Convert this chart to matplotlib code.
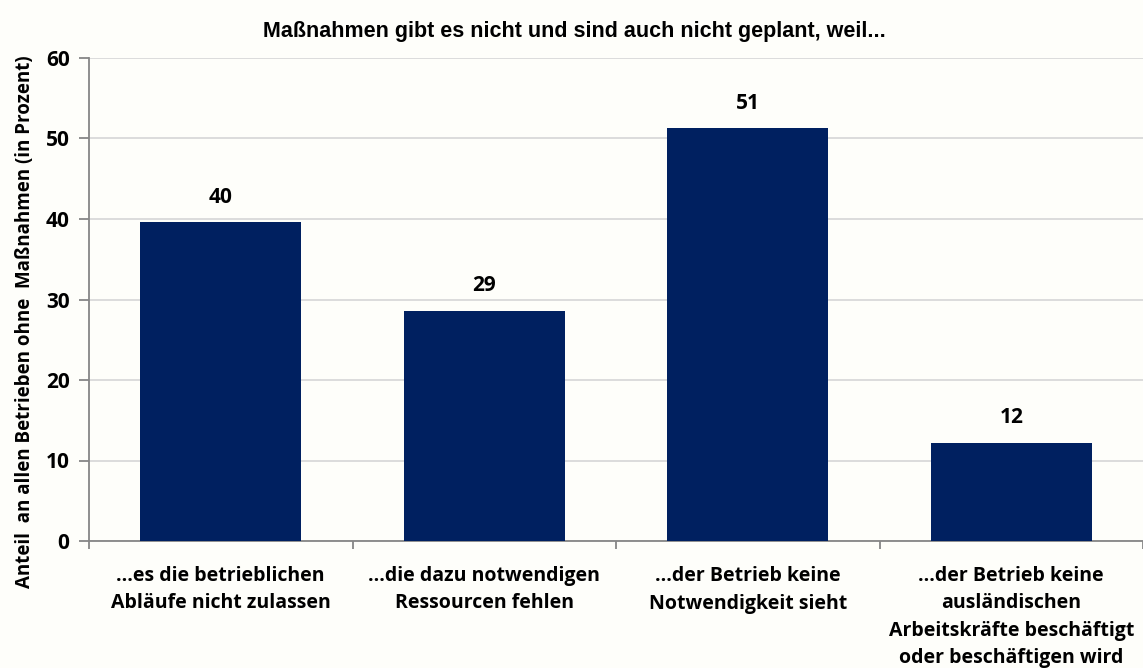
import matplotlib.pyplot as plt
import numpy as np

categories = ['...es die betrieblichen\nAbläufe nicht zulassen',
              '...die dazu notwendigen\nRessourcen fehlen',
              '...der Betrieb keine\nNotwendigkeit sieht',
              '...der Betrieb keine\nausländischen\nArbeitskräfte beschäftigt\noder beschäftigen wird']
values = [39.6, 28.6, 51.3, 12.2]
labels = ['40', '29', '51', '12']

plt.rcParams['font.family'] = ['Open Sans', 'DejaVu Sans']

bg = '#fefefa'
fig = plt.figure(figsize=(11.43, 6.68), dpi=100, facecolor=bg)
ax = fig.add_axes([89 / 1143, 1 - 541 / 668, 1 - 89 / 1143, 483 / 668], facecolor=bg)

x = np.arange(len(values))
ax.bar(x, values, width=0.61, color='#002060', zorder=3)
for xi, v, t in zip(x, values, labels):
    ax.text(xi, v + 1.8, t, ha='center', va='bottom', fontsize=15, fontweight='bold')

ax.set_xlim(-0.5, 3.49)
ax.set_ylim(0, 60)
ax.set_yticks(range(0, 61, 10))
ax.yaxis.grid(True, color='#d9d9d9', linewidth=1.3, zorder=0)
ax.set_xticks(x)
ax.set_xticklabels(categories, fontsize=14, fontweight='bold', linespacing=1.5, va='top')
ax.tick_params(axis='x', length=0, pad=18)
ax.set_xticks(np.arange(-0.5, 3.6, 1), minor=True)
ax.tick_params(axis='x', which='minor', length=6, color='#868686', width=1.3)
ax.tick_params(axis='y', length=7, color='#868686', width=1.3, labelsize=15, pad=7)
for lab in ax.get_yticklabels():
    lab.set_fontweight('bold')

for s in ['top', 'right']:
    ax.spines[s].set_visible(False)
for s in ['left', 'bottom']:
    ax.spines[s].set_color('#868686')
    ax.spines[s].set_linewidth(1.3)

fig.text(25 / 1143, 1 - 322 / 668, 'Anteil  an allen Betrieben ohne  Maßnahmen (in Prozent)',
         rotation=90, ha='center', va='center', fontsize=13.5, fontweight='bold')
fig.text(574 / 1143, 1 - 31 / 668, 'Maßnahmen gibt es nicht und sind auch nicht geplant, weil...',
         ha='center', va='center', fontsize=15.5, fontweight='bold', family='Liberation Sans')

fig.savefig('out.png', dpi=100, facecolor=bg)
